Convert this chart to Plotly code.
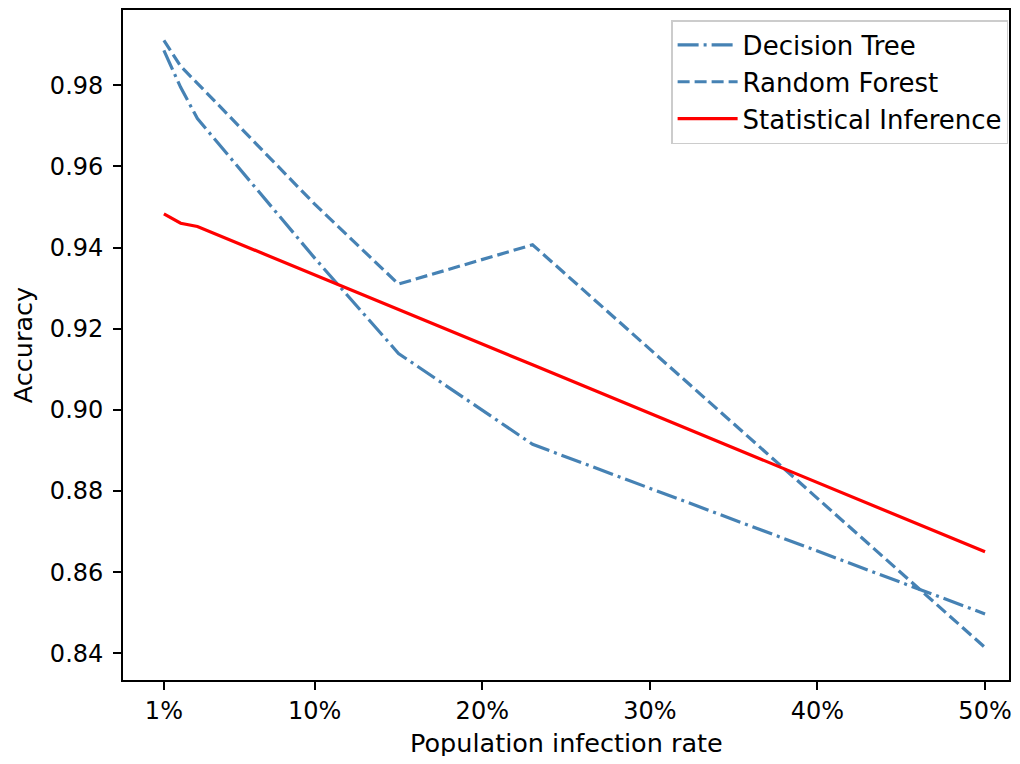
import plotly.graph_objects as go

rates = [1, 2, 3, 10, 15, 23, 50]
decision_tree = [0.9886, 0.9795, 0.9718, 0.9374, 0.9139, 0.8915, 0.8497]
random_forest = [0.9911, 0.9847, 0.9805, 0.9507, 0.9310, 0.9407, 0.8414]
stat_inference = [0.9483, 0.9460, 0.9452, 0.9333, 0.9247, 0.9111, 0.8650]

tick_vals = [1, 10, 20, 30, 40, 50]
tick_text = ["1%", "10%", "20%", "30%", "40%", "50%"]
y_ticks = [0.84, 0.86, 0.88, 0.90, 0.92, 0.94, 0.96, 0.98]

FONT = "DejaVu Sans"
fig = go.Figure()
fig.add_trace(go.Scatter(x=rates, y=decision_tree, mode="lines", name="Decision Tree",
                         line=dict(color="#4682B4", width=3.2, dash="21px,5px,3px,5px")))
fig.add_trace(go.Scatter(x=rates, y=random_forest, mode="lines", name="Random Forest",
                         line=dict(color="#4682B4", width=3.2, dash="12px,5px")))
fig.add_trace(go.Scatter(x=rates, y=stat_inference, mode="lines", name="Statistical Inference",
                         line=dict(color="#FF0000", width=3.2)))

fig.update_layout(
    width=1004, height=748,
    margin=dict(l=115, r=1, t=2, b=76),
    plot_bgcolor="white", paper_bgcolor="white",
    font=dict(family=FONT, size=24, color="black"),
    showlegend=True,
    legend=dict(x=0.999, y=0.985, xanchor="right", yanchor="top",
                bgcolor="rgba(255,255,255,0.8)", bordercolor="#cccccc", borderwidth=1.5,
                itemwidth=60,
                font=dict(family=FONT, size=26, color="black")),
    annotations=[dict(text="Population infection rate", xref="paper", yref="paper",
                      x=0.5, y=0, xanchor="center", yanchor="middle", yshift=-63,
                      showarrow=False, font=dict(family=FONT, size=25.5, color="black"))],
)
fig.update_xaxes(range=[-1.44, 51.43], tickmode="array", tickvals=tick_vals, ticktext=tick_text,
                 showgrid=False, zeroline=False, showline=True, linecolor="black", linewidth=1.8,
                 mirror=True, ticks="outside", ticklen=8, tickwidth=1.8, tickcolor="black",
                 tickfont=dict(family=FONT, size=24), automargin=False)
fig.update_yaxes(range=[0.8334, 0.99857], tickmode="array", tickvals=y_ticks,
                 ticktext=[f"{v:.2f}" for v in y_ticks],
                 showgrid=False, zeroline=False, showline=True, linecolor="black", linewidth=1.8,
                 mirror=True, ticks="outside", ticklen=8, tickwidth=1.8, tickcolor="black",
                 tickfont=dict(family=FONT, size=24), ticklabelstandoff=5,
                 title=dict(text="Accuracy", font=dict(family=FONT, size=25.5), standoff=10))

fig.write_html("out.html")
